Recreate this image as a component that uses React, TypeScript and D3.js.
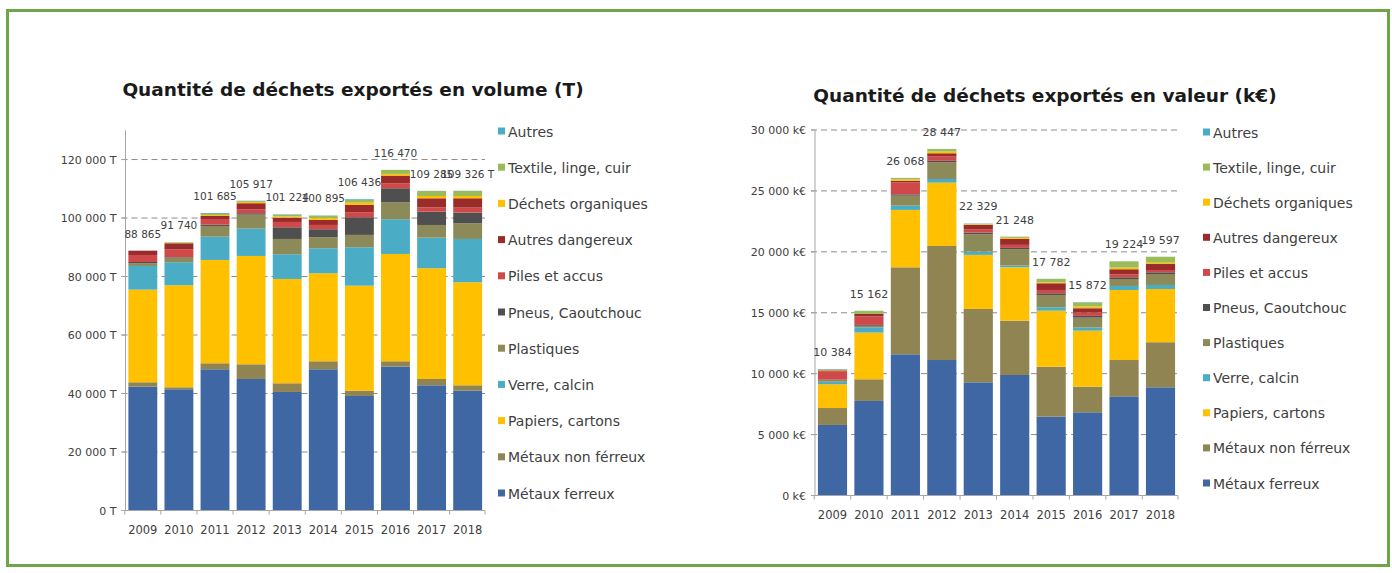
import React, { useEffect, useRef } from "react"
import * as d3 from "d3"

// years on the x axis
const years = ["2009", "2010", "2011", "2012", "2013", "2014", "2015", "2016", "2017", "2018"]

// series, bottom of the stack first
const seriesNames = [
  "Métaux ferreux",
  "Métaux non férreux",
  "Papiers, cartons",
  "Verre, calcin",
  "Plastiques",
  "Pneus, Caoutchouc",
  "Piles et accus",
  "Autres dangereux",
  "Déchets organiques",
  "Textile, linge, cuir",
  "Autres",
]
const seriesColors = [
  "#3e67a3", "#918453", "#ffc000", "#4bacc6", "#8c8a58", "#4f4f4f",
  "#d0494a", "#9a2b2b", "#ffc000", "#9bbb59", "#4bacc6",
]

// volume (T), one array per series
const volFerreux = [42340, 41450, 48290, 44970, 40530, 48290, 39160, 49200, 42810, 40980]
const volNonFerreux = [1500, 680, 2050, 5020, 2970, 2730, 1820, 1820, 2160, 1830]
const volPapiers = [31680, 34890, 35330, 37050, 35670, 30100, 35900, 36700, 37860, 35230]
const volVerre = [8100, 7870, 7970, 9340, 8450, 8550, 13130, 11870, 10470, 14810]
const volPlastiques = [900, 1570, 3650, 4790, 5230, 3760, 4220, 5810, 4330, 5360]
const volPneus = [450, 200, 450, 480, 3990, 2740, 6050, 4790, 4560, 3650]
const volPiles = [2400, 2670, 1940, 1370, 1820, 1470, 1710, 1710, 1480, 1710]
const volAutresDang = [1470, 2050, 1030, 2050, 1480, 1710, 2490, 2620, 3080, 3190]
const volOrganiques = [10, 150, 340, 420, 450, 580, 780, 570, 780, 780]
const volTextile = [10, 150, 340, 300, 450, 890, 920, 1370, 1710, 1710]
const volAutres = [5, 60, 295, 127, 184, 75, 256, 10, 45, 76]
const volLabels = ["88 865", "91 740", "101 685", "105 917", "101 224", "100 895", "106 436", "116 470", "109 285", "109 326 T"]
const volTicks = [0, 20000, 40000, 60000, 80000, 100000, 120000]

// value (k€), one array per series
const valFerreux = [5790, 7760, 11590, 11120, 9290, 9890, 6470, 6830, 8140, 8880]
const valNonFerreux = [1390, 1780, 7140, 9360, 6020, 4460, 4100, 2100, 2980, 3700]
const valPapiers = [1950, 3830, 4710, 5200, 4440, 4380, 4600, 4600, 5750, 4370]
const valVerre = [210, 440, 350, 300, 270, 140, 280, 250, 330, 330]
const valPlastiques = [140, 120, 820, 1380, 1430, 1350, 1010, 820, 570, 900]
const valPneus = [30, 70, 110, 110, 130, 100, 140, 140, 140, 140]
const valPiles = [680, 700, 990, 350, 280, 250, 270, 270, 250, 190]
const valAutresDang = [80, 200, 130, 270, 350, 500, 550, 360, 410, 490]
const valOrganiques = [30, 0, 110, 140, 40, 80, 80, 140, 140, 110]
const valTextile = [50, 250, 110, 210, 60, 98, 270, 330, 510, 487]
const valAutres = [34, 12, 8, 7, 19, 0, 12, 32, 4, 0]
const valLabels = ["10 384", "15 162", "26 068", "28 447", "22 329", "21 248", "17 782", "15 872", "19 224", "19 597"]
const valTicks = [0, 5000, 10000, 15000, 20000, 25000, 30000]

const volSeries = [volFerreux, volNonFerreux, volPapiers, volVerre, volPlastiques, volPneus,
  volPiles, volAutresDang, volOrganiques, volTextile, volAutres]
const valSeries = [valFerreux, valNonFerreux, valPapiers, valVerre, valPlastiques, valPneus,
  valPiles, valAutresDang, valOrganiques, valTextile, valAutres]

const FONT = "'DejaVu Sans', sans-serif"
const TEXT = "#404040"

const spaced = (n: number) => d3.format(",")(n).replace(/,/g, " ")

function drawChart(svg: any, cfg: any) {
  const g = svg.append("g")
  const rows = years.map((yr, i) => {
    const row: any = { year: yr }
    seriesNames.forEach((s, k) => { row[s] = cfg.series[k][i] })
    return row
  })
  const stacked = d3.stack().keys(seriesNames)(rows)

  const x = d3.scaleBand().domain(years).range([cfg.x0, cfg.x1]).paddingInner(0.2).paddingOuter(0.08)
  const y = d3.scaleLinear().domain([0, cfg.max]).range([cfg.yZero, cfg.yTop])

  // dashed gridlines
  g.selectAll(".grid")
    .data(cfg.ticks.filter((t: number) => t > 0))
    .enter()
    .append("line")
    .attr("x1", cfg.x0 - 4)
    .attr("x2", cfg.x1)
    .attr("y1", (d: number) => y(d))
    .attr("y2", (d: number) => y(d))
    .attr("stroke", "#8c8c8c")
    .attr("stroke-width", 1)
    .attr("stroke-dasharray", "6,4")

  // stacked bars
  stacked.forEach((layer: any, k: number) => {
    g.selectAll(".s" + k)
      .data(layer)
      .enter()
      .append("rect")
      .attr("x", (d: any) => x(d.data.year))
      .attr("width", x.bandwidth())
      .attr("y", (d: any) => y(d[1]))
      .attr("height", (d: any) => Math.max(0, y(d[0]) - y(d[1])))
      .attr("fill", seriesColors[k])
  })

  // axes
  g.append("line")
    .attr("x1", cfg.x0).attr("x2", cfg.x0)
    .attr("y1", y(cfg.max)).attr("y2", cfg.yZero)
    .attr("stroke", "#a6a6a6")
  g.append("line")
    .attr("x1", cfg.x0 - 4).attr("x2", cfg.x1)
    .attr("y1", cfg.yZero).attr("y2", cfg.yZero)
    .attr("stroke", "#a6a6a6")
  g.selectAll(".ytick")
    .data(cfg.ticks)
    .enter()
    .append("line")
    .attr("x1", cfg.x0 - 4).attr("x2", cfg.x0)
    .attr("y1", (d: number) => y(d)).attr("y2", (d: number) => y(d))
    .attr("stroke", "#a6a6a6")
  const step = x.step()
  g.selectAll(".xtick")
    .data(years.concat(["end"]))
    .enter()
    .append("line")
    .attr("x1", (d: string, i: number) => i < years.length ? x(d) - step * 0.1 : cfg.x1)
    .attr("x2", (d: string, i: number) => i < years.length ? x(d) - step * 0.1 : cfg.x1)
    .attr("y1", cfg.yZero).attr("y2", cfg.yZero + 4)
    .attr("stroke", "#a6a6a6")

  g.selectAll(".ylab")
    .data(cfg.ticks)
    .enter()
    .append("text")
    .attr("x", cfg.x0 - 9)
    .attr("y", (d: number) => y(d) + 4)
    .attr("text-anchor", "end")
    .attr("font-family", FONT)
    .attr("font-size", 11)
    .attr("fill", TEXT)
    .text((d: number) => spaced(d) + cfg.unit)

  g.selectAll(".xlab")
    .data(years)
    .enter()
    .append("text")
    .attr("x", (d: string) => x(d) + x.bandwidth() / 2)
    .attr("y", cfg.yZero + 23)
    .attr("text-anchor", "middle")
    .attr("font-family", FONT)
    .attr("font-size", 11.5)
    .attr("fill", TEXT)
    .text((d: string) => d)

  // totals above bars
  const top = stacked[stacked.length - 1]
  g.selectAll(".tot")
    .data(cfg.labels)
    .enter()
    .append("text")
    .attr("x", (d: string, i: number) => x(years[i]) + x.bandwidth() / 2)
    .attr("y", (d: string, i: number) => y(top[i][1]) - 13)
    .attr("text-anchor", "middle")
    .attr("font-family", FONT)
    .attr("font-size", cfg.labelSize)
    .attr("fill", TEXT)
    .text((d: string) => d)

  // title
  g.append("text")
    .attr("x", cfg.titleX)
    .attr("y", cfg.titleY)
    .attr("text-anchor", "middle")
    .attr("font-family", FONT)
    .attr("font-weight", "bold")
    .attr("font-size", 18.5)
    .attr("fill", "#1a1a1a")
    .text(cfg.title)

  // legend, top entry is last series
  const legendOrder = seriesNames.map((s, k) => k).reverse()
  const ly = d3.scalePoint().domain(legendOrder.map(String)).range([cfg.legendTop, cfg.legendBottom])
  const leg = g.selectAll(".leg")
    .data(legendOrder)
    .enter()
    .append("g")
    .attr("transform", (k: number) => `translate(${cfg.legendX},${ly(String(k))})`)
  leg.append("rect")
    .attr("x", 0).attr("y", -4)
    .attr("width", 7).attr("height", 7)
    .attr("fill", (k: number) => seriesColors[k])
  leg.append("text")
    .attr("x", 10).attr("y", 5)
    .attr("font-family", FONT)
    .attr("font-size", 14)
    .attr("fill", TEXT)
    .text((k: number) => seriesNames[k])
}

export default function App() {
  const ref = useRef<SVGSVGElement>(null)

  useEffect(() => {
    const svg = d3.select(ref.current)
    svg.selectAll("*").remove()
    svg.append("rect")
      .attr("width", 1392).attr("height", 573)
      .attr("fill", "#ffffff")
    svg.append("rect")
      .attr("x", 7.5).attr("y", 10.5)
      .attr("width", 1381).attr("height", 555)
      .attr("fill", "none")
      .attr("stroke", "#6ea44a")
      .attr("stroke-width", 3)

    drawChart(svg, {
      series: volSeries, labels: volLabels, ticks: volTicks, max: 130000, unit: " T",
      x0: 125.5, x1: 485, yZero: 510.5, yTop: 130.3, labelSize: 10.5,
      title: "Quantité de déchets exportés en volume (T)", titleX: 353, titleY: 96,
      legendX: 498, legendTop: 131.5, legendBottom: 493.5,
    })
    drawChart(svg, {
      series: valSeries, labels: valLabels, ticks: valTicks, max: 30000, unit: " k€",
      x0: 815, x1: 1178, yZero: 495.5, yTop: 130, labelSize: 11,
      title: "Quantité de déchets exportés en valeur (k€)", titleX: 1045, titleY: 102,
      legendX: 1203, legendTop: 132.5, legendBottom: 483.5,
    })
  }, [])

  return (
    <svg ref={ref} width={1392} height={573}
      style={{ position: "absolute", left: 0, top: 0, display: "block" }} />
  )
}
